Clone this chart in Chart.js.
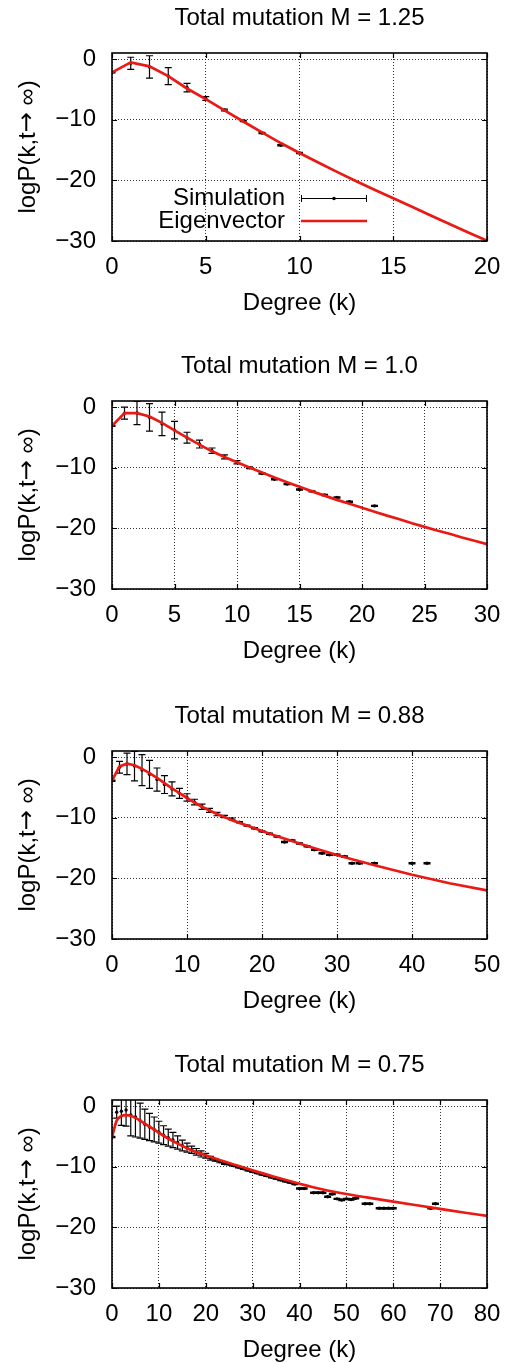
<!DOCTYPE html>
<html>
<head>
<meta charset="utf-8">
<script src="https://cdn.jsdelivr.net/npm/chart.js@4"></script>
<style>
  html, body { margin: 0; padding: 0; background: #fff; overflow: hidden; }
  .panel { position: absolute; left: 0; width: 518px; height: 348px; }
</style>
</head>
<body>
<div class="panel" style="top:0px"><canvas id="c1" width="518" height="348"></canvas></div>
<div class="panel" style="top:348px"><canvas id="c2" width="518" height="348"></canvas></div>
<div class="panel" style="top:698px"><canvas id="c3" width="518" height="348"></canvas></div>
<div class="panel" style="top:1047px"><canvas id="c4" width="518" height="348"></canvas></div>
<script>
const yTicks = [0, -10, -20, -30];

// M = 1.25
const xTicks1 = [0, 5, 10, 15, 20];
const simK1 = [0, 1, 2, 3, 4, 5, 6, 7, 8, 9, 10];
const simY1 = [-2.2, -0.7, -1.3, -2.8, -4.7, -6.5, -8.4, -10.2, -12.2, -14.2, -15.5];
const simE1 = [0.1, 1.0, 1.85, 1.4, 0.7, 0.3, 0.15, 0.1, 0.1, 0.1, 0.1];
const eigK1 = [0, 1, 2, 3, 4, 5, 6, 7, 8, 9, 10, 11, 12, 13, 14, 15, 16, 17, 18, 19, 20];
const eigY1 = [-2.2, -0.55, -1.2, -2.8, -4.85, -6.6, -8.45, -10.3, -12.1, -13.85, -15.5,
  -17.05, -18.6, -20.1, -21.55, -22.95, -24.35, -25.8, -27.2, -28.6, -29.95];

// M = 1.0
const xTicks2 = [0, 5, 10, 15, 20, 25, 30];
const simK2 = [0, 1, 2, 3, 4, 5, 6, 7, 8, 9, 10, 11, 12, 13, 14, 15, 16, 17, 18, 19, 21];
const simY2 = [-3.1, -1.0, -0.98, -1.7, -2.78, -3.8, -5.05, -6.1, -7.2, -8.2, -9.1,
  -10.0, -10.95, -11.9, -12.7, -13.6, -13.9, -14.5, -14.9, -15.6, -16.3];
const simE2 = [0.1, 0.98, 1.93, 2.28, 1.93, 1.43, 0.9, 0.65, 0.45, 0.33, 0.28,
  0.15, 0.1, 0.1, 0.1, 0.1, 0.1, 0.1, 0.1, 0.1, 0.1];
const eigK2 = [0, 1, 2, 3, 4, 5, 6, 7, 8, 9, 10, 11, 12, 13, 14, 15, 16, 17, 18, 19, 20,
  21, 22, 23, 24, 25, 26, 27, 28, 29, 30];
const eigY2 = [-3.1, -1.0, -1.0, -1.55, -2.6, -3.85, -5.05, -6.2, -7.3, -8.25, -9.1,
  -9.95, -10.8, -11.6, -12.4, -13.15, -13.9, -14.6, -15.3, -15.95, -16.6,
  -17.25, -17.9, -18.5, -19.15, -19.75, -20.35, -20.9, -21.5, -22.05, -22.6];

// M = 0.88
const xTicks3 = [0, 10, 20, 30, 40, 50];
const simK3 = [0, 1, 2, 3, 4, 5, 6, 7, 8, 9, 10, 11, 12, 13, 14, 15, 16, 17, 18, 19, 20,
  21, 22, 23, 24, 25, 26, 27, 28, 29, 30, 31, 32, 33, 35, 40, 42];
const simY3 = [-3.9, -1.68, -1.13, -1.48, -2.15, -2.85, -3.7, -4.53, -5.25, -5.98, -6.65,
  -7.43, -8.2, -8.8, -9.4, -9.8, -10.2, -10.75, -11.3, -11.75, -12.25,
  -12.65, -13.1, -14.0, -13.75, -14.25, -14.7, -15.3, -15.85, -16.1, -16.1,
  -16.4, -17.5, -17.5, -17.5, -17.5, -17.5];
const simE3 = [0.1, 0.98, 1.78, 2.43, 2.55, 2.3, 1.9, 1.48, 1.15, 0.83, 0.6,
  0.47, 0.44, 0.33, 0.28, 0.2, 0.15, 0.1, 0.1, 0.1, 0.1,
  0.1, 0.1, 0.1, 0.1, 0.1, 0.1, 0.1, 0.1, 0.1, 0.1,
  0.1, 0.1, 0.1, 0.1, 0.1, 0.1];
const eigK3 = [0, 1, 2, 3, 4, 5, 6, 7, 8, 9, 10, 11, 12, 13, 14, 15, 16, 17, 18, 19, 20,
  22, 24, 26, 28, 30, 32, 35, 40, 45, 50];
const eigY3 = [-3.9, -1.55, -1.1, -1.35, -1.95, -2.65, -3.45, -4.3, -5.15, -5.95, -6.75,
  -7.5, -8.2, -8.8, -9.4, -9.9, -10.4, -10.85, -11.3, -11.75, -12.2,
  -13.05, -13.85, -14.65, -15.4, -16.15, -16.85, -17.85, -19.4, -20.8, -22.0];

// M = 0.75
const xTicks4 = [0, 10, 20, 30, 40, 50, 60, 70, 80];
const simK4 = [0, 1, 2, 3, 4, 5, 6, 7, 8, 9, 10, 11, 12, 13, 14, 15, 16, 17, 18, 19, 20,
  21, 22, 23, 24, 25, 26, 27, 28, 29, 30, 31, 32, 33, 34, 35, 36, 37, 38, 39, 40, 41,
  43, 44, 45, 46, 47, 48, 49, 50, 51, 52, 54, 55, 57, 58, 59, 60, 68, 69];
const simY4 = [-5.1, -1.0, -0.85, -0.65, -1.45, -1.8, -2.4, -3.0, -3.45, -3.85, -4.3,
  -4.8, -5.2, -5.6, -6.0, -6.5, -6.85, -7.2, -7.55, -7.9, -8.2,
  -8.6, -8.9, -9.2, -9.5, -9.6, -9.85, -10.1, -10.35, -10.6, -10.85,
  -11.05, -11.3, -11.5, -11.75, -11.95, -12.2, -12.4, -12.6, -12.85, -13.6, -13.6,
  -14.3, -14.3, -14.3, -14.95, -14.5, -15.3, -15.5, -15.3, -15.4, -15.2,
  -16.1, -16.1, -16.85, -16.85, -16.85, -16.85, -16.85, -16.1];
const simE4 = [0.1, 1.0, 2.35, 2.65, 3.45, 3.3, 2.9, 2.5, 2.25, 2.05, 1.8,
  1.55, 1.4, 1.25, 1.1, 0.9, 0.75, 0.6, 0.55, 0.5, 0.4,
  0.3, 0.2, 0.15, 0.1, 0.1, 0.1, 0.1, 0.1, 0.1, 0.1,
  0.1, 0.1, 0.1, 0.1, 0.1, 0.1, 0.1, 0.1, 0.1, 0.1, 0.1,
  0.1, 0.1, 0.1, 0.1, 0.1, 0.1, 0.1, 0.1, 0.1, 0.1,
  0.1, 0.1, 0.1, 0.1, 0.1, 0.1, 0.1, 0.1];
const eigK4 = [0, 1, 2, 3, 4, 5, 6, 7, 8, 9, 10, 12, 14, 16, 18, 20, 25, 30, 35, 40,
  45, 50, 55, 60, 65, 70, 75, 80];
const eigY4 = [-5.1, -2.4, -1.65, -1.5, -1.6, -1.95, -2.4, -2.9, -3.4, -3.9, -4.4,
  -5.35, -6.2, -6.95, -7.6, -8.1, -9.4, -10.6, -11.75, -12.8,
  -13.75, -14.5, -15.15, -15.75, -16.35, -16.95, -17.55, -18.1];

// y title pieces: the arrow comes from DejaVu, Liberation's arrow is tiny
const yTitleParts = [['logP(k,t', 'L'], ['\u2192', 'D'], [' \u221e)', 'L']];

const FONT = '"Liberation Sans", Arial, Helvetica, sans-serif';
const ARROW_FONT = '"DejaVu Sans", sans-serif';
const RED = 'rgb(235,25,20)';
const txt = { family: FONT, size: 24, weight: 'normal', lineHeight: 1.2 };

const fmt = v => (v < 0 ? '\u2212' + Math.abs(v) : String(v));

// error bars under the points, clipped to the plot like gnuplot does
const errorBars = {
  id: 'errorBars',
  beforeDatasetsDraw(chart) {
    const ds = chart.data.datasets.find(d => d.err);
    if (!ds) return;
    const { ctx, chartArea: a, scales: { x, y } } = chart;
    ctx.save();
    ctx.beginPath();
    ctx.rect(a.left, a.top, a.right - a.left, a.bottom - a.top);
    ctx.clip();
    ctx.strokeStyle = '#000';
    ctx.lineWidth = 1.2;
    ds.data.forEach((pt, i) => {
      const px = x.getPixelForValue(pt.x);
      const top = y.getPixelForValue(pt.y + ds.err[i]);
      const bot = y.getPixelForValue(pt.y - ds.err[i]);
      ctx.beginPath();
      ctx.moveTo(px, top); ctx.lineTo(px, bot);
      ctx.moveTo(px - 3.5, top); ctx.lineTo(px + 3.5, top);
      ctx.moveTo(px - 3.5, bot); ctx.lineTo(px + 3.5, bot);
      ctx.stroke();
    });
    ctx.restore();
  }
};

// box border with inward mirrored ticks, plus the rotated y title
const frame = {
  id: 'frame',
  afterDraw(chart) {
    const { ctx, chartArea: a, scales: { x, y } } = chart;
    ctx.save();
    ctx.strokeStyle = '#000';
    ctx.lineWidth = 1.2;
    ctx.beginPath();
    x.ticks.forEach(t => {
      const px = Math.round(x.getPixelForValue(t.value)) + 0.5;
      ctx.moveTo(px, a.bottom); ctx.lineTo(px, a.bottom - 5);
      ctx.moveTo(px, a.top); ctx.lineTo(px, a.top + 5);
    });
    y.ticks.forEach(t => {
      const py = Math.round(y.getPixelForValue(t.value)) + 0.5;
      ctx.moveTo(a.left, py); ctx.lineTo(a.left + 5, py);
      ctx.moveTo(a.right, py); ctx.lineTo(a.right - 5, py);
    });
    ctx.stroke();
    ctx.lineWidth = 1.6;
    ctx.strokeRect(a.left, a.top, a.right - a.left, a.bottom - a.top);

    // y title
    const fontOf = f => '24px ' + (f === 'D' ? ARROW_FONT : FONT);
    let total = 0;
    const widths = yTitleParts.map(([s, f]) => {
      ctx.font = fontOf(f);
      const w = ctx.measureText(s).width;
      total += w;
      return w;
    });
    ctx.translate(28, (a.top + a.bottom) / 2);
    ctx.rotate(-Math.PI / 2);
    ctx.fillStyle = '#000';
    ctx.textAlign = 'left';
    ctx.textBaseline = 'middle';
    let pos = -total / 2;
    yTitleParts.forEach(([s, f], i) => {
      ctx.font = fontOf(f);
      ctx.fillText(s, pos, 0);
      pos += widths[i];
    });
    ctx.restore();
  }
};

// gnuplot-style key, only on the first panel
const key = {
  id: 'key',
  afterDraw(chart) {
    const { ctx, chartArea: a } = chart;
    const [eig, sim] = chart.data.datasets;
    const tx = a.left + 173, x0 = a.left + 189, x1 = a.left + 255;
    const y0 = a.top + 145, y1 = a.top + 168;
    ctx.save();
    ctx.font = '24px ' + FONT;
    ctx.fillStyle = '#000';
    ctx.textAlign = 'right';
    ctx.textBaseline = 'middle';
    ctx.fillText(sim.label, tx, y0);
    ctx.fillText(eig.label, tx, y1);
    ctx.strokeStyle = '#000';
    ctx.lineWidth = 1;
    ctx.beginPath();
    ctx.moveTo(x0, y0 + 0.5); ctx.lineTo(x1, y0 + 0.5);
    ctx.moveTo(x0 + 0.5, y0 - 3); ctx.lineTo(x0 + 0.5, y0 + 4);
    ctx.moveTo(x1 - 0.5, y0 - 3); ctx.lineTo(x1 - 0.5, y0 + 4);
    ctx.stroke();
    ctx.beginPath();
    ctx.arc((x0 + x1) / 2, y0 + 0.5, 1.8, 0, Math.PI * 2);
    ctx.fill();
    ctx.strokeStyle = RED;
    ctx.lineWidth = 2.7;
    ctx.beginPath();
    ctx.moveTo(x0, y1); ctx.lineTo(x1, y1);
    ctx.stroke();
    ctx.restore();
  }
};

function makePanel(id, title, xMax, xTicks, simK, simY, simE, eigK, eigY, smooth, withKey) {
  const plugins = [errorBars, frame];
  if (withKey) plugins.push(key);
  return new Chart(document.getElementById(id), {
    type: 'scatter',
    data: {
      datasets: [
        {
          label: 'Eigenvector',
          data: eigK.map((k, i) => ({ x: k, y: eigY[i] })),
          showLine: true,
          borderColor: RED,
          borderWidth: 2.7,
          pointRadius: 0,
          cubicInterpolationMode: smooth ? 'monotone' : 'default',
          tension: 0
        },
        {
          label: 'Simulation',
          data: simK.map((k, i) => ({ x: k, y: simY[i] })),
          err: simE,
          pointRadius: 1.7,
          pointBorderWidth: 0,
          backgroundColor: '#000',
          borderColor: '#000'
        }
      ]
    },
    options: {
      responsive: false,
      animation: false,
      events: [],
      layout: { padding: { left: 0, right: 31, top: 0, bottom: 0 } },
      plugins: {
        legend: { display: false },
        tooltip: { enabled: false },
        title: {
          display: true,
          text: title,
          fullSize: false,
          color: '#000',
          font: txt,
          padding: { top: 3.6, bottom: 20.6 }
        }
      },
      scales: {
        x: {
          type: 'linear',
          min: 0,
          max: xMax,
          afterBuildTicks: s => { s.ticks = xTicks.map(v => ({ value: v })); },
          afterFit: s => { s.height = 107; },
          grid: { color: 'rgba(0,0,0,0.8)', lineWidth: 1, drawTicks: false },
          border: { display: false, dash: [1, 2] },
          ticks: { color: '#000', font: txt, padding: 11.6, maxRotation: 0, autoSkip: false, callback: fmt },
          title: { display: true, text: 'Degree (k)', color: '#000', font: txt, padding: { top: 0, bottom: 30 } }
        },
        y: {
          type: 'linear',
          min: -30,
          max: 1,
          afterBuildTicks: s => { s.ticks = yTicks.map(v => ({ value: v })); },
          afterFit: s => { s.width = 112; },
          grid: { color: 'rgba(0,0,0,0.8)', lineWidth: 1, drawTicks: false },
          border: { display: false, dash: [1, 2] },
          ticks: { color: '#000', font: txt, padding: 16, autoSkip: false, callback: fmt },
          title: { display: false }
        }
      }
    },
    plugins
  });
}

makePanel('c1', 'Total mutation M = 1.25', 20, xTicks1, simK1, simY1, simE1, eigK1, eigY1, false, true);
makePanel('c2', 'Total mutation M = 1.0', 30, xTicks2, simK2, simY2, simE2, eigK2, eigY2, false, false);
makePanel('c3', 'Total mutation M = 0.88', 50, xTicks3, simK3, simY3, simE3, eigK3, eigY3, false, false);
makePanel('c4', 'Total mutation M = 0.75', 80, xTicks4, simK4, simY4, simE4, eigK4, eigY4, true, false);
</script>
</body>
</html>
